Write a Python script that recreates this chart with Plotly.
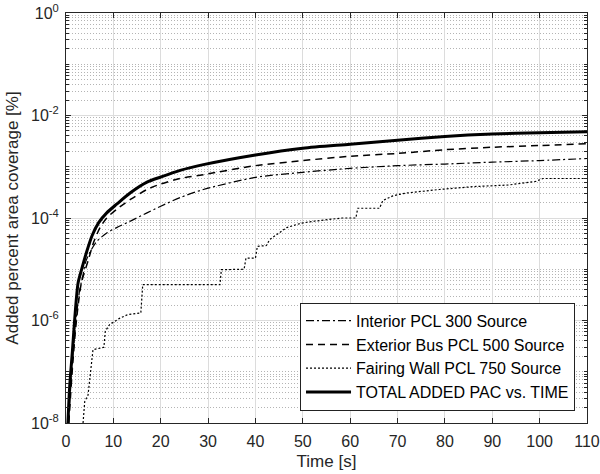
import plotly.graph_objects as go

# ---- data ----
t_int = [0.55, 1.2, 2.1, 2.9, 3.6, 4.1, 5.1, 6.5, 8.6, 10.7, 13.6, 17.1, 20, 24.1, 29,
         40, 50, 60, 70, 80, 90, 100, 110]
v_int = [1e-8, 1e-7, 1e-6, 4e-6, 7.8e-6, 1.35e-5, 2.2e-5, 3.5e-5, 5.1e-5, 6.5e-5, 8.7e-5,
         1.26e-4, 1.7e-4, 2.5e-4, 3.6e-4, 6.2e-4, 7.8e-4, 9.3e-4, 1.05e-3, 1.13e-3, 1.23e-3,
         1.32e-3, 1.45e-3]

t_ext = [0.6, 1.3, 2.2, 3.25, 4.75, 5.8, 7.2, 8.6, 10.7, 13.6, 17.1, 20, 24.1, 29,
         40, 50, 60, 70, 80, 90, 100, 110]
v_ext = [1e-8, 1e-7, 1e-6, 5.4e-6, 1.55e-5, 3.3e-5, 6.5e-5, 1.0e-4, 1.48e-4, 2.3e-4, 3.6e-4,
         4.6e-4, 5.9e-4, 7.0e-4, 1.05e-3, 1.32e-3, 1.6e-3, 1.82e-3, 2.15e-3, 2.4e-3, 2.6e-3, 2.8e-3]

t_fair = [3.6, 3.95, 4.65, 5.35, 5.7, 8.0, 8.3, 9.2, 11.3, 13, 15.8, 16.2, 32.5, 32.8, 37.6, 38.0,
          40.0, 40.4, 42.3, 43.0, 44.5, 46.6, 49.6, 52.5, 58.3, 61.2, 61.6, 66.2, 66.9, 69,
          70.4, 72.2, 78.8, 86.1, 93.4, 99.2, 100.7, 110]
v_fair = [1e-8, 2.6e-8, 3.5e-8, 1.2e-7, 2.7e-7, 3.0e-7, 6.2e-7, 8.3e-7, 1.1e-6, 1.3e-6, 1.4e-6,
          5.0e-6, 5.0e-6, 9.8e-6, 1.0e-5, 1.65e-5, 1.65e-5, 2.8e-5, 2.9e-5, 3.8e-5, 4.8e-5,
          6.5e-5, 7.9e-5, 8.7e-5, 1.0e-4, 1.0e-4, 1.55e-4, 1.55e-4, 2.2e-4, 2.7e-4,
          2.9e-4, 3.1e-4, 3.6e-4, 4.1e-4, 4.4e-4, 5.2e-4, 5.9e-4, 5.9e-4]

t_tot = [0.4, 0.8, 1.35, 1.85, 2.55, 3.4, 4.3, 5.5, 6.9, 8.6, 10.7, 13.6, 17.1, 20, 24.1, 29,
         40, 50, 60, 70, 80, 90, 100, 110]
v_tot = [1e-8, 5.6e-8, 2.5e-7, 1.1e-6, 5.4e-6, 1.07e-5, 2.1e-5, 4.5e-5, 8.1e-5, 1.26e-4,
         1.86e-4, 3.1e-4, 5.0e-4, 6.3e-4, 8.5e-4, 1.1e-3, 1.7e-3, 2.3e-3, 2.75e-3, 3.3e-3,
         3.9e-3, 4.35e-3, 4.6e-3, 4.8e-3]

names = ["Interior PCL 300 Source", "Exterior Bus PCL 500 Source",
         "Fairing Wall PCL 750 Source", "TOTAL ADDED PAC vs. TIME"]

x_ticks = list(range(0, 111, 10))
y_ticks = [1e-8, 1e-6, 1e-4, 1e-2, 1]
y_ticktext = ["10<sup>-8</sup>", "10<sup>-6</sup>", "10<sup>-4</sup>", "10<sup>-2</sup>", "10<sup>0</sup>"]

# minor grid positions (every 1..9 x decade, excluding labelled decades)
y_minor = [k * 10.0 ** e for e in range(-8, 0) for k in range(1, 10)
           if not (k == 1 and e % 2 == 0)]

FONT = "Liberation Sans, Arial, sans-serif"
AX = "#262626"

fig = go.Figure()
fig.add_trace(go.Scatter(x=t_int, y=v_int, mode="lines", name=names[0],
                         line=dict(color="black", width=1.2, dash="8px,3px,2px,3px",
                                   shape="spline", smoothing=0.7)))
fig.add_trace(go.Scatter(x=t_ext, y=v_ext, mode="lines", name=names[1],
                         line=dict(color="black", width=1.5, dash="7px,5px",
                                   shape="spline", smoothing=0.7)))
fig.add_trace(go.Scatter(x=t_fair, y=v_fair, mode="lines", name=names[2],
                         line=dict(color="black", width=1.2, dash="2px,2px")))
fig.add_trace(go.Scatter(x=t_tot, y=v_tot, mode="lines", name=names[3],
                         line=dict(color="black", width=3, shape="spline", smoothing=0.7)))

fig.update_layout(
    width=600, height=474,
    margin=dict(l=66, r=13, t=13, b=51),
    paper_bgcolor="white", plot_bgcolor="white",
    font=dict(family=FONT, size=16, color=AX),
    showlegend=True,
    legend=dict(x=0.977, y=0.03, xanchor="right", yanchor="bottom",
                bgcolor="white", bordercolor="#222222", borderwidth=1,
                font=dict(family=FONT, size=16, color="black"),
                tracegroupgap=0, itemwidth=45),
)

fig.update_xaxes(
    range=[0, 110], tickvals=x_ticks, ticks="inside", ticklen=5, tickcolor=AX,
    showline=True, linecolor=AX, linewidth=1, mirror="ticks",
    showgrid=True, gridcolor="#dcdcdc", gridwidth=1, zeroline=False,
    tickfont=dict(size=16, color=AX), ticklabelstandoff=4,
    title=dict(text="Time [s]", font=dict(size=17, color=AX), standoff=5),
    automargin=False,
)
fig.update_yaxes(
    type="log", range=[-8, 0], tickvals=y_ticks, ticktext=y_ticktext,
    ticks="inside", ticklen=5, tickcolor=AX,
    showline=True, linecolor=AX, linewidth=1, mirror="ticks",
    showgrid=True, gridcolor="#dcdcdc", gridwidth=1, zeroline=False,
    tickfont=dict(size=16, color=AX), ticklabelstandoff=3,
    minor=dict(tickvals=y_minor, ticks="inside", ticklen=3, tickcolor=AX,
               showgrid=True, gridcolor="#b4b4b4", griddash="1px,2px", gridwidth=1),
    title=dict(text="Added percent area coverage [%]", font=dict(size=17, color=AX), standoff=8),
    automargin=False,
)

fig.write_html("out.html")
